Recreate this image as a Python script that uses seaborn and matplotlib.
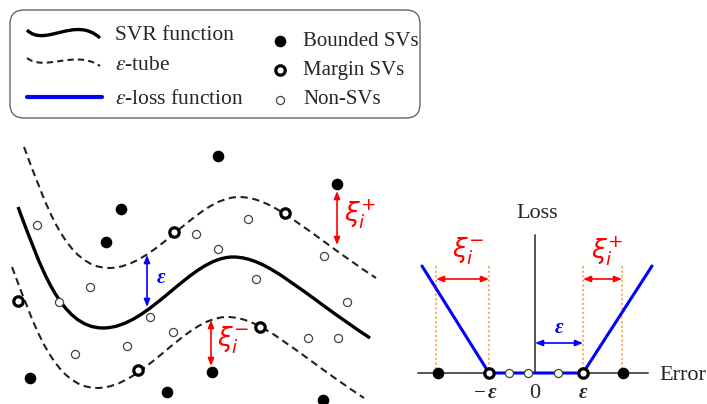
import numpy as np
import pandas as pd
import matplotlib
matplotlib.use("Agg")
import matplotlib.pyplot as plt
from matplotlib.path import Path
from matplotlib.patches import PathPatch, FancyBboxPatch
import seaborn as sns

# ---------------- data (pixel coordinates of the diagram) ----------------
# SVR function as three cubic Bezier segments (control points)
svr_ctrl_x = [18, 40, 60, 103, 150, 190, 233, 268, 300, 370]
svr_ctrl_y = [207, 265, 328, 328, 328, 257, 257, 257, 292, 338]
tube_shift_upper = (6, -60)
tube_shift_lower = (-6, 60)

bounded_x = [218, 337, 121, 106, 30, 167, 212, 323]
bounded_y = [156, 184, 209, 242, 378, 392, 372, 400]
margin_x = [285, 174, 18, 260, 138]
margin_y = [213, 232, 301, 327, 370]
non_x = [37, 196, 248, 218, 324, 90, 59, 256, 347, 150, 173, 127, 75, 308, 338]
non_y = [225, 234, 219, 249, 256, 287, 302, 279, 302, 317, 332, 346, 354, 338, 338]

# epsilon-insensitive loss panel
loss_x = [422, 489, 583, 652]
loss_y = [266, 373, 373, 266]
loss_bounded_x = [438, 623]
loss_margin_x = [489, 583]
loss_non_x = [509, 528, 558]
axis_y = 373
guide_x = [436, 489, 583, 622]

legend_lines = ["SVR function", r"$\varepsilon$-tube", r"$\varepsilon$-loss function"]
legend_points = ["Bounded SVs", "Margin SVs", "Non-SVs"]

# ---------------- figure ----------------
sns.set_style("white")
plt.rcParams["font.family"] = ["Liberation Serif", "DejaVu Serif"]
plt.rcParams["mathtext.fontset"] = "stix"

fig = plt.figure(figsize=(7.07, 4.04), dpi=100)
ax = fig.add_axes([0, 0, 1, 1])
ax.set_xlim(0, 707)
ax.set_ylim(404, 0)
ax.axis("off")


def bezier_path(xs, ys, dx=0, dy=0):
    verts = [(x + dx, y + dy) for x, y in zip(xs, ys)]
    codes = [Path.MOVETO] + [Path.CURVE4] * (len(verts) - 1)
    return Path(verts, codes)


def xi_label(x, y, sign):
    ax.text(x, y, r"$\xi_i^{%s}$" % sign, color="red", fontsize=19,
            math_fontfamily="dejavusans", va="center", ha="left")


# SVR curve and tube
ax.add_patch(PathPatch(bezier_path(svr_ctrl_x, svr_ctrl_y), fill=False,
                       edgecolor="black", lw=2.4, capstyle="butt"))
for sh in (tube_shift_upper, tube_shift_lower):
    ax.add_patch(PathPatch(bezier_path(svr_ctrl_x, svr_ctrl_y, *sh), fill=False,
                           edgecolor="#222222", lw=1.5, linestyle=(0, (3.5, 2.2))))

# points left panel
sns.scatterplot(x=non_x, y=non_y, ax=ax, s=34, color="white", edgecolor="#444444",
                linewidth=0.9, zorder=5)
sns.scatterplot(x=margin_x, y=margin_y, ax=ax, s=46, color="white", edgecolor="black",
                linewidth=2.3, zorder=6)
sns.scatterplot(x=bounded_x, y=bounded_y, ax=ax, s=70, color="black", edgecolor="black",
                linewidth=0, zorder=6)

arrow_red = dict(arrowstyle="<|-|>,head_length=0.45,head_width=0.18", color="red",
                 lw=1.2, shrinkA=0, shrinkB=0)
arrow_blue = dict(arrowstyle="<|-|>,head_length=0.45,head_width=0.18", color="blue",
                  lw=1.2, shrinkA=0, shrinkB=0)
ax.annotate("", xy=(337, 191), xytext=(337, 245), arrowprops=arrow_red)
xi_label(344, 214, "+")
ax.annotate("", xy=(211, 320), xytext=(211, 366), arrowprops=arrow_red)
xi_label(217, 340, "-")
ax.annotate("", xy=(147, 255), xytext=(147, 307), arrowprops=arrow_blue)
ax.text(157, 278, "ε", color="blue", fontsize=15, fontstyle="italic",
        fontweight="bold", va="center", ha="left")

# ---------------- loss panel ----------------
ax.plot([418, 648], [axis_y, axis_y], color="#555555", lw=1.4, zorder=1)
ax.plot([535, 535], [235, axis_y], color="#555555", lw=1.4, zorder=1)
ax.text(537, 214, "Loss", fontsize=16, ha="center", va="center")
ax.text(659, 375, "Error", fontsize=16, ha="left", va="center")
for gx in guide_x:
    ax.plot([gx, gx], [266, axis_y], color="#ff9a3c", lw=1.1, linestyle=(0, (1.5, 1.5)),
            zorder=1)
sns.lineplot(x=loss_x, y=loss_y, ax=ax, color="blue", lw=2.2, sort=False,
             estimator=None, zorder=3)
ax.annotate("", xy=(436, 279), xytext=(489, 279), arrowprops=arrow_red)
ax.annotate("", xy=(583, 279), xytext=(622, 279), arrowprops=arrow_red)
xi_label(452, 251, "-")
xi_label(591, 251, "+")
ax.annotate("", xy=(535, 343), xytext=(583, 343), arrowprops=arrow_blue)
ax.text(559, 328, "ε", color="blue", fontsize=15, fontstyle="italic",
        fontweight="bold", va="center", ha="center")

sns.scatterplot(x=loss_non_x, y=[axis_y] * len(loss_non_x), ax=ax, s=34, color="white",
                edgecolor="#444444", linewidth=0.9, zorder=5)
sns.scatterplot(x=loss_margin_x, y=[axis_y] * len(loss_margin_x), ax=ax, s=46,
                color="white", edgecolor="black", linewidth=2.3, zorder=6)
sns.scatterplot(x=loss_bounded_x, y=[axis_y] * len(loss_bounded_x), ax=ax, s=70,
                color="black", linewidth=0, zorder=6)

ax.text(480, 393, "−", fontsize=15, ha="center", va="center")
ax.text(492, 393, "ε", fontsize=15, fontstyle="italic", fontweight="bold",
        ha="center", va="center")
ax.text(535, 393, "0", fontsize=16, ha="center", va="center")
ax.text(583, 393, "ε", fontsize=15, fontstyle="italic", fontweight="bold",
        ha="center", va="center")

# ---------------- legend box ----------------
ax.add_patch(FancyBboxPatch((10, 10), 410, 108, boxstyle="round,pad=0,rounding_size=14",
                            facecolor="white", edgecolor="#666666", lw=1.0, zorder=0))
ax.add_patch(PathPatch(bezier_path([27, 45, 75, 100], [30, 48, 15, 38]), fill=False,
                       edgecolor="black", lw=2.4))
ax.add_patch(PathPatch(bezier_path([27, 45, 75, 100], [58, 72, 49, 66]), fill=False,
                       edgecolor="#222222", lw=1.5, linestyle=(0, (3.0, 2.0))))
ax.plot([27, 102], [97, 97], color="blue", lw=3)
for txt, yy in zip(legend_lines, [35, 66, 99]):
    ax.text(115, yy, txt, fontsize=15.5, ha="left", va="center")
sns.scatterplot(x=[280], y=[41], ax=ax, s=70, color="black", linewidth=0)
sns.scatterplot(x=[280], y=[70], ax=ax, s=46, color="white", edgecolor="black",
                linewidth=2.3)
sns.scatterplot(x=[280], y=[100], ax=ax, s=34, color="white", edgecolor="#444444",
                linewidth=0.9)
for txt, yy in zip(legend_points, [41, 70, 100]):
    ax.text(303, yy, txt, fontsize=15, ha="left", va="center")

fig.savefig("out.png", dpi=100)
